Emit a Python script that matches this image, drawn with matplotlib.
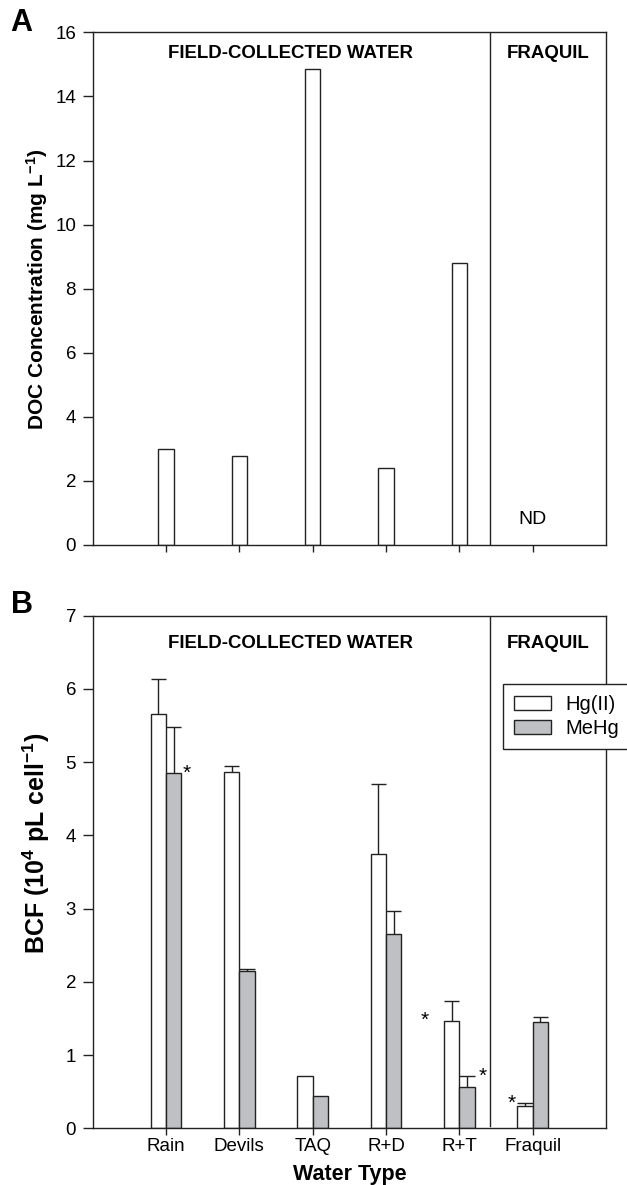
import matplotlib
matplotlib.use("Agg")
import matplotlib.pyplot as plt
from matplotlib.patches import Patch
import numpy as np

plt.rcParams['font.family'] = ['Liberation Sans', 'DejaVu Sans']
plt.rcParams['mathtext.fontset'] = 'custom'
plt.rcParams['mathtext.rm'] = 'Liberation Sans'
plt.rcParams['mathtext.bf'] = 'Liberation Sans:bold'
plt.rcParams['mathtext.it'] = 'Liberation Sans:italic'

# ---- data ----
categories = ["Rain", "Devils", "TAQ", "R+D", "R+T", "Fraquil"]
doc_values = [2.99, 2.77, 14.85, 2.40, 8.80]          # Fraquil: ND
hg_values = [5.66, 4.87, 0.71, 3.74, 1.47, 0.31]
hg_err = [0.48, 0.08, 0.0, 0.96, 0.27, 0.03]
mehg_values = [4.85, 2.15, 0.44, 2.65, 0.57, 1.45]
mehg_err = [0.63, 0.02, 0.0, 0.32, 0.14, 0.07]
grey = "#bfc0c4"
ink = "#222222"

fig = plt.figure(figsize=(6.27, 11.85), dpi=100)
axA = fig.add_axes([0.1478, 0.5401, 0.8187, 0.4326])
axB = fig.add_axes([0.1478, 0.04785, 0.8187, 0.4326])

x = np.arange(1, len(categories) + 1)
w = 0.207
divider = 5.42
lw = 1.0

for ax in (axA, axB):
    ax.set_xlim(0, 7)
    ax.set_xticks(x)
    ax.tick_params(axis='y', direction='out', length=7, width=lw, pad=5, labelsize=13.5, color=ink)
    ax.tick_params(axis='x', direction='out', length=5.3, width=lw, pad=1.5, labelsize=13.5, color=ink)
    for s in ax.spines.values():
        s.set_linewidth(lw)
        s.set_color(ink)

# ---- Panel A ----
axA.bar(x[:len(doc_values)], doc_values, width=w, color='white', edgecolor=ink, linewidth=lw)
axA.set_ylim(0, 16)
axA.set_yticks(range(0, 17, 2))
axA.set_xticklabels([])
axA.axvline(divider, color=ink, linewidth=lw)
axA.text(2.7, 15.34, "FIELD-COLLECTED WATER", ha='center', va='center', fontsize=13.4, fontweight='bold')
axA.text(6.21, 15.34, "FRAQUIL", ha='center', va='center', fontsize=13.4, fontweight='bold')
axA.text(6.0, 0.81, "ND", ha='center', va='center', fontsize=14)
axA.set_ylabel("DOC Concentration (mg L$^{\\mathbf{-1}}$)", fontsize=15, fontweight='bold')
axA.yaxis.set_label_coords(-0.109, 0.5)
axA.yaxis.label.set_va('center')
fig.text(0.0343, 0.981, "A", fontsize=22, fontweight='bold', ha='center', va='center')

# ---- Panel B ----
xh = x - w / 2
xm = x + w / 2
axB.bar(xh, hg_values, width=w, color='white', edgecolor=ink, linewidth=lw, zorder=2)
axB.bar(xm, mehg_values, width=w, color=grey, edgecolor=ink, linewidth=lw, zorder=2)
for xs, vals, errs in ((xh, hg_values, hg_err), (xm, mehg_values, mehg_err)):
    for xi, v, e in zip(xs, vals, errs):
        if e > 0:
            axB.vlines(xi, v, v + e, color=ink, linewidth=lw, zorder=1)
            axB.hlines(v + e, xi - w / 2, xi + w / 2, color=ink, linewidth=lw, zorder=1)
axB.set_ylim(0, 7)
axB.set_yticks(range(0, 8))
axB.set_xticklabels(categories)
axB.axvline(divider, ymin=0.005, ymax=1, color=ink, linewidth=lw)
axB.text(2.7, 6.62, "FIELD-COLLECTED WATER", ha='center', va='center', fontsize=13.4, fontweight='bold')
axB.text(6.21, 6.62, "FRAQUIL", ha='center', va='center', fontsize=13.4, fontweight='bold')

# significance asterisks
ast = [(xm[0] + w / 2 + 0.08, mehg_values[0]),
       (xh[4] - w / 2 - 0.26, hg_values[4]),
       (xm[4] + w / 2 + 0.11, mehg_values[4] + mehg_err[4]),
       (xh[5] - w / 2 - 0.08, hg_values[5] + hg_err[5])]
for ax_, ay_ in ast:
    axB.text(ax_, ay_, "*", ha='center', va='center', fontsize=15)

axB.set_ylabel("BCF (10$^{\\mathbf{4}}$ pL cell$^{\\mathbf{-1}}$)", fontsize=18, fontweight='bold')
axB.yaxis.set_label_coords(-0.109, 0.556)
axB.yaxis.label.set_va('center')
axB.set_xlabel("Water Type", fontsize=15.5, fontweight='bold')
axB.xaxis.set_label_coords(0.5, -0.091)
axB.xaxis.label.set_va('center')
fig.text(0.0351, 0.4894, "B", fontsize=22, fontweight='bold', ha='center', va='center')

handles = [Patch(facecolor='white', edgecolor=ink, linewidth=lw, label='Hg(II)'),
           Patch(facecolor=grey, edgecolor=ink, linewidth=lw, label='MeHg')]
leg = axB.legend(handles=handles, loc='upper left', bbox_to_anchor=(0.799, 0.867),
                 borderaxespad=0, fontsize=14.5, handlelength=1.85, handleheight=0.75,
                 handletextpad=0.7, borderpad=0.55, labelspacing=0.25, fancybox=False,
                 framealpha=1, edgecolor=ink)
leg.get_frame().set_linewidth(lw)

fig.savefig("out.png", dpi=100)
